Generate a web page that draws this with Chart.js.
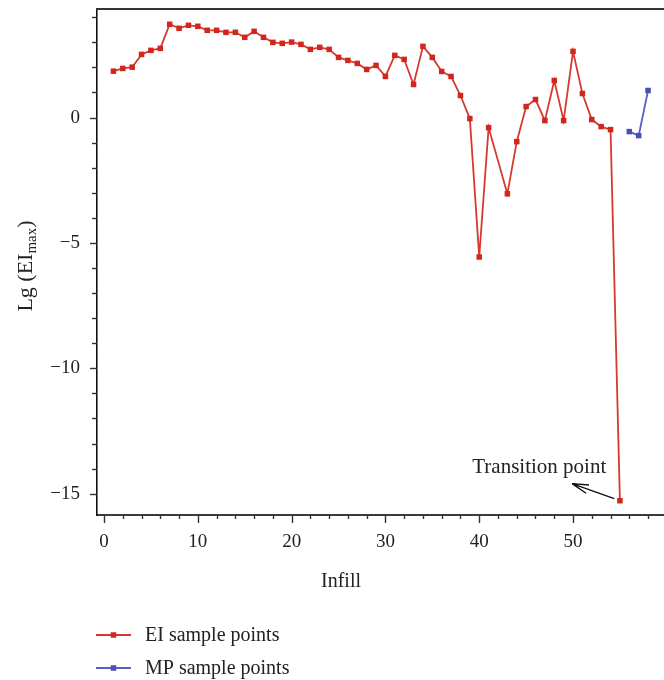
<!DOCTYPE html>
<html>
<head>
<meta charset="utf-8">
<title>Lg(EImax) vs Infill</title>
<script src="https://cdn.jsdelivr.net/npm/chart.js@4.4.1/dist/chart.umd.min.js"></script>
<style>
  html, body { margin: 0; padding: 0; background: #fff; }
  #chart { display: block; }
</style>
</head>
<body>
<canvas id="chart" width="664" height="680"></canvas>
<script>
// EI infill rounds (nothing was recorded at round 42)
const eiInfill = [1, 2, 3, 4, 5, 6, 7, 8, 9, 10, 11, 12, 13, 14, 15, 16, 17, 18, 19, 20,
  21, 22, 23, 24, 25, 26, 27, 28, 29, 30, 31, 32, 33, 34, 35, 36, 37, 38, 39, 40, 41,
  43, 44, 45, 46, 47, 48, 49, 50, 51, 52, 53, 54, 55];
const eiValues = [1.85, 1.96, 2.01, 2.52, 2.68, 2.76, 3.72, 3.56, 3.68, 3.64,
  3.48, 3.48, 3.40, 3.40, 3.20, 3.44, 3.20, 3.00, 2.96, 3.01,
  2.92, 2.72, 2.80, 2.72, 2.40, 2.28, 2.16, 1.92, 2.08, 1.64,
  2.48, 2.32, 1.32, 2.84, 2.40, 1.84, 1.64, 0.88, -0.04, -5.56,
  -0.40, -3.04, -0.96, 0.44, 0.72, -0.12, 1.48, -0.12, 2.64, 0.96,
  -0.08, -0.36, -0.48, -15.28];

const mpInfill = [56, 57, 58];
const mpValues = [-0.56, -0.72, 1.08];

const xTickLabels = [0, 10, 20, 30, 40, 50];
const yTickLabels = [-15, -10, -5, 0];

// annotation: label and arrow, in data units
const transitionText = 'Transition point';
const transitionAt = [46.4, -14.18];
const arrowTail = [54.4, -15.2];
const arrowTip = [49.9, -14.6];

const FONT = '"Liberation Serif", "Times New Roman", serif';
const INK = '#222';
const RED = '#d1261c';
const BLUE = '#4a4fb3';

const minus = v => String(v).replace('-', '\u2212');

const decorations = {
  id: 'decorations',
  afterDraw(chart) {
    const { ctx, chartArea: area, scales: { x, y } } = chart;
    ctx.save();

    // frame line along the top
    ctx.strokeStyle = '#333';
    ctx.lineWidth = 2;
    ctx.beginPath();
    ctx.moveTo(area.left - 1, area.top);
    ctx.lineTo(area.right, area.top);
    ctx.stroke();

    // outward tick marks, longer at labelled values
    ctx.lineWidth = 1.4;
    for (let v = 0; v <= x.max; v += 2) {
      const px = Math.round(x.getPixelForValue(v)) + 0.5;
      const len = xTickLabels.includes(v) ? 8 : 4;
      ctx.beginPath();
      ctx.moveTo(px, area.bottom);
      ctx.lineTo(px, area.bottom + len);
      ctx.stroke();
    }
    for (let v = Math.ceil(y.min); v <= y.max; v += 1) {
      const py = Math.round(y.getPixelForValue(v)) + 0.5;
      const len = yTickLabels.includes(v) ? 7 : 5;
      ctx.beginPath();
      ctx.moveTo(area.left, py);
      ctx.lineTo(area.left - len, py);
      ctx.stroke();
    }

    // axis titles
    ctx.fillStyle = INK;
    ctx.textBaseline = 'alphabetic';
    ctx.font = '20px ' + FONT;
    ctx.textAlign = 'center';
    ctx.fillText('Infill', 341, 587);

    // y title with subscript, rotated
    const head = 'Lg (EI', sub = 'max', tail = ')';
    ctx.font = '22px ' + FONT;
    const wHead = ctx.measureText(head).width;
    const wTail = ctx.measureText(tail).width;
    ctx.font = '15px ' + FONT;
    const wSub = ctx.measureText(sub).width;
    const total = wHead + wSub + wTail;
    ctx.translate(32, (area.top + area.bottom) / 2 + 4);
    ctx.rotate(-Math.PI / 2);
    ctx.textAlign = 'left';
    let cx = -total / 2;
    ctx.font = '22px ' + FONT;
    ctx.fillText(head, cx, 0);
    cx += wHead;
    ctx.font = '15px ' + FONT;
    ctx.fillText(sub, cx, 4);
    cx += wSub;
    ctx.font = '22px ' + FONT;
    ctx.fillText(tail, cx, 0);
    ctx.setTransform(1, 0, 0, 1, 0, 0);

    // transition annotation
    ctx.font = '21px ' + FONT;
    ctx.textAlign = 'center';
    ctx.fillText(transitionText, x.getPixelForValue(transitionAt[0]), y.getPixelForValue(transitionAt[1]));
    const tx = x.getPixelForValue(arrowTip[0]), ty = y.getPixelForValue(arrowTip[1]);
    const sx = x.getPixelForValue(arrowTail[0]), sy = y.getPixelForValue(arrowTail[1]);
    const ang = Math.atan2(sy - ty, sx - tx);
    ctx.strokeStyle = '#111';
    ctx.lineWidth = 1.4;
    ctx.beginPath();
    ctx.moveTo(sx, sy);
    ctx.lineTo(tx, ty);
    for (const d of [-0.26, 0.26]) {
      ctx.moveTo(tx, ty);
      ctx.lineTo(tx + 17 * Math.cos(ang + d), ty + 17 * Math.sin(ang + d));
    }
    ctx.stroke();

    // legend, one row per dataset
    chart.data.datasets.forEach((ds, i) => {
      const rowY = area.bottom + 120 + i * 33;
      const x0 = area.left - 1, x1 = area.left + 34;
      ctx.strokeStyle = ds.borderColor;
      ctx.lineWidth = ds.borderWidth;
      ctx.beginPath();
      ctx.moveTo(x0, rowY);
      ctx.lineTo(x1, rowY);
      ctx.stroke();
      ctx.fillStyle = ds.pointBackgroundColor;
      ctx.fillRect((x0 + x1) / 2 - 2.75, rowY - 2.75, 5.5, 5.5);
      ctx.fillStyle = INK;
      ctx.textAlign = 'left';
      ctx.font = '20px ' + FONT;
      ctx.fillText(ds.label, area.left + 48, rowY + 6);
    });

    ctx.restore();
  }
};

const series = (xs, ys) => xs.map((v, i) => ({ x: v, y: ys[i] }));

new Chart(document.getElementById('chart'), {
  type: 'scatter',
  data: {
    datasets: [
      {
        label: 'EI sample points',
        data: series(eiInfill, eiValues),
        showLine: true,
        borderColor: '#d6392f',
        borderWidth: 1.8,
        pointStyle: 'rect',
        pointRadius: 3.9,
        pointBorderWidth: 0,
        pointBackgroundColor: RED
      },
      {
        label: 'MP sample points',
        data: series(mpInfill, mpValues),
        showLine: true,
        borderColor: '#5a5fc2',
        borderWidth: 1.8,
        pointStyle: 'rect',
        pointRadius: 3.9,
        pointBorderWidth: 0,
        pointBackgroundColor: BLUE
      }
    ]
  },
  options: {
    responsive: false,
    animation: false,
    events: [],
    layout: { autoPadding: false, padding: { top: 9, left: 0, right: 0, bottom: 0 } },
    plugins: { legend: { display: false }, tooltip: { enabled: false } },
    scales: {
      x: {
        type: 'linear',
        min: -0.75,
        max: 59.7,
        afterBuildTicks: s => { s.ticks = xTickLabels.map(v => ({ value: v })); },
        afterFit: s => { s.height = 165; s.paddingLeft = 0; s.paddingRight = 0; },
        grid: { display: false, drawTicks: false },
        border: { display: true, color: '#3a3a3a', width: 2 },
        ticks: { padding: 16, color: INK, font: { family: FONT, size: 19 }, callback: v => minus(v) }
      },
      y: {
        type: 'linear',
        min: -15.85,
        max: 4.33,
        afterBuildTicks: s => { s.ticks = yTickLabels.map(v => ({ value: v })); },
        afterFit: s => { s.width = 97; s.paddingTop = 0; s.paddingBottom = 0; },
        grid: { display: false, drawTicks: false },
        border: { display: true, color: '#111', width: 1.6 },
        ticks: { padding: 17, color: INK, font: { family: FONT, size: 19 }, callback: v => minus(v) }
      }
    }
  },
  plugins: [decorations]
});
</script>
</body>
</html>
